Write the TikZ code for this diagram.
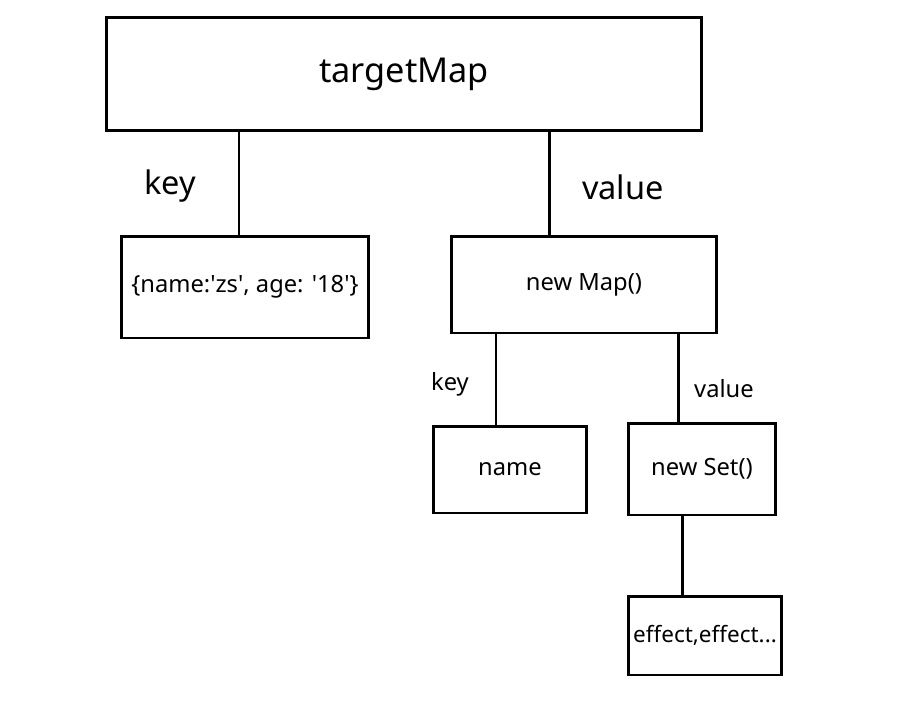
\documentclass[tikz,border=0pt]{standalone}
\usepackage{fontspec}
\setmainfont{Noto Sans}
\tikzset{
	box/.style={draw, line width=1.7pt, rectangle, inner sep=0pt, font=\fontsize{13.5}{16}\selectfont},
	bigtxt/.style={font=\fontsize{18.5}{22}\selectfont},
	smalltxt/.style={font=\fontsize{13.5}{16}\selectfont},
	link/.style={line width=1.7pt}
}
\begin{document}
\begin{tikzpicture}[x=0.02cm, y=-0.02cm]
	%\draw[help lines, gray!30] (0,0) grid[step=50] (924,707);
	\useasboundingbox (0,0) rectangle (924,707);
	
	\node[box, minimum width=11.92cm, minimum height=2.28cm, font=\fontsize{19.5}{22}\selectfont] (tm) at (404,74) {targetMap};
	\node[box, minimum width=4.96cm, minimum height=2.04cm] (kobj) at (245,287) {\{name:\textquotesingle zs\textquotesingle, age: \textquotesingle 18\textquotesingle\}};
	\node[box, minimum width=5.32cm, minimum height=1.94cm] (map) at (584,284.5) {new Map()};
	\node[box, minimum width=3.08cm, minimum height=1.74cm] (nm) at (510,469.5) {name};
	\node[box, minimum width=2.96cm, minimum height=1.84cm] (set) at (702,469) {new Set()};
	\node[box, minimum width=3.08cm, minimum height=1.58cm, font=\fontsize{12.8}{15}\selectfont] (eff) at (705,635.5) {effect,effect...};
	
	\draw[link] ([xshift=-0.12cm]kobj.north) -- ([xshift=-0.12cm]kobj.north |- tm.south);
	\draw[link] ([xshift=-0.7cm]map.north) -- ([xshift=-0.7cm]map.north |- tm.south);
	\draw[link] ([xshift=-0.28cm]nm.north) -- ([xshift=-0.28cm]nm.north |- map.south);
	\draw[link] ([xshift=-0.48cm]set.north) -- ([xshift=-0.48cm]set.north |- map.south);
	\draw[link] ([xshift=-0.46cm]eff.north) -- ([xshift=-0.46cm]eff.north |- set.south);
	
	\node[bigtxt] (k1) at (170,186) {key};
	\node[bigtxt] (v1) at (623,187) {value};
	\node[smalltxt] (k2) at (450,384) {key};
	\node[smalltxt] (v2) at (724,389) {value};
	
\end{tikzpicture}
\end{document}
